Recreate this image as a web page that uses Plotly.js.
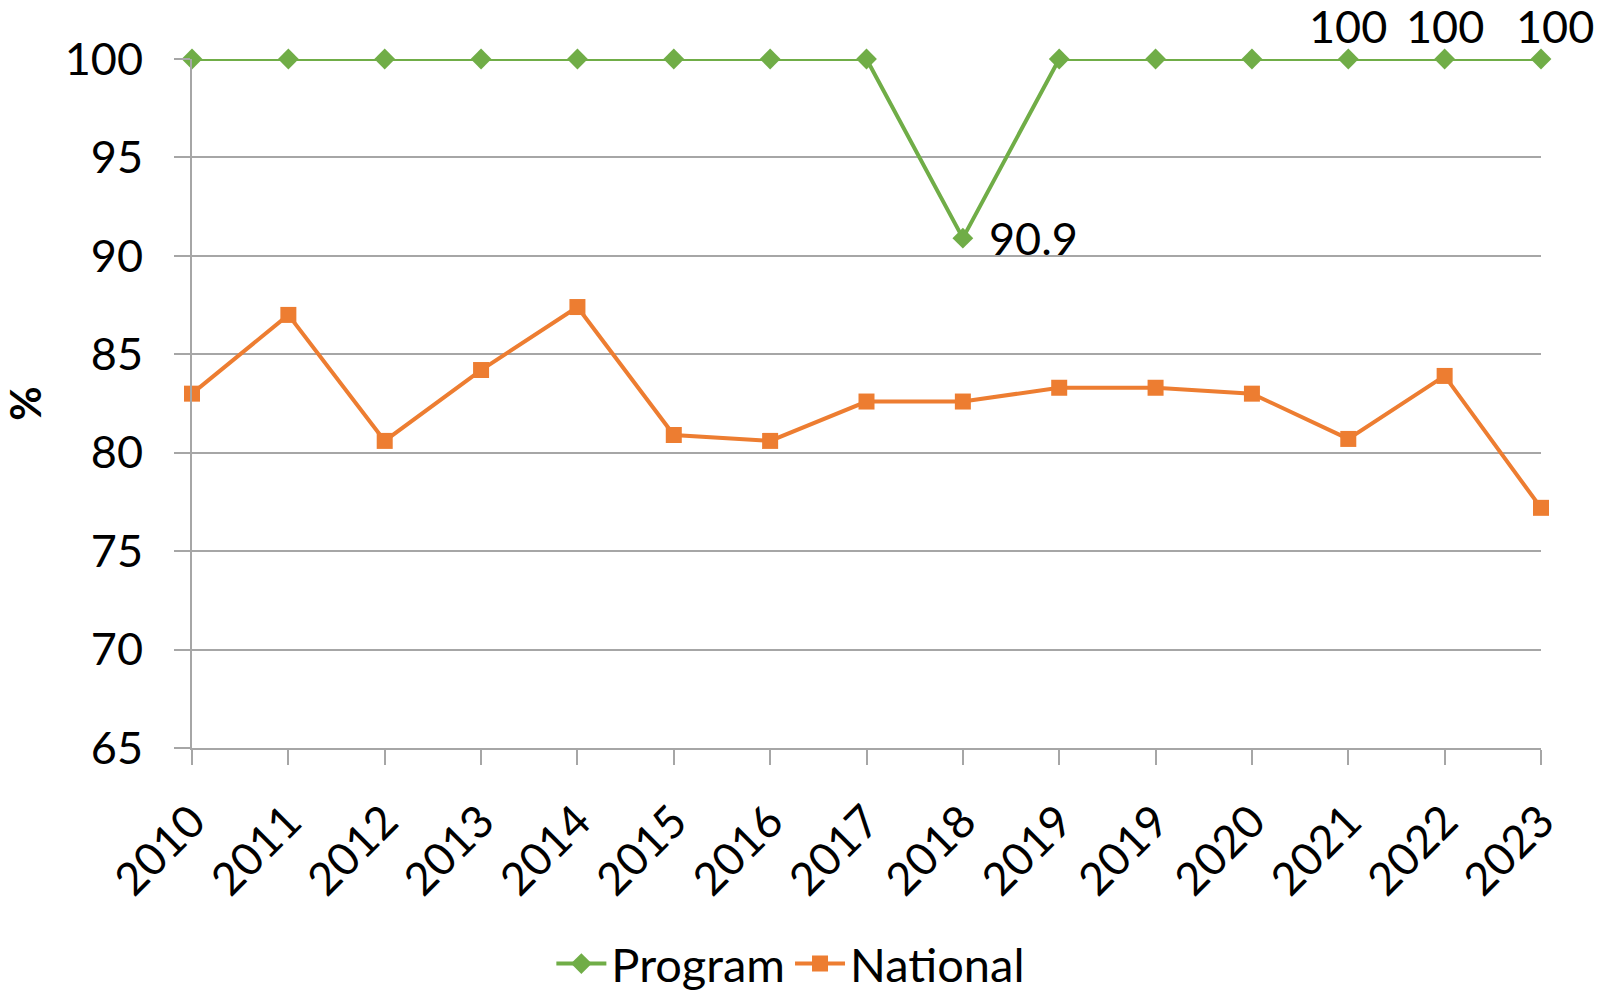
<!DOCTYPE html>
<html>
<head>
<meta charset="utf-8">
<script src="https://cdn.plot.ly/plotly-3.0.1.min.js"></script>
<style>html,body{margin:0;padding:0;background:#fff;}#chart{width:1614px;height:1000px;}</style>
</head>
<body>
<div id="chart"></div>
<script>
var years = ["2010","2011","2012","2013","2014","2015","2016","2017","2018","2019","2019","2020","2021","2022","2023"];
var program = [100,100,100,100,100,100,100,100,90.9,100,100,100,100,100,100];
var national = [83.0,87.0,80.6,84.2,87.4,80.9,80.6,82.6,82.6,83.3,83.3,83.0,80.7,83.9,77.2];
var programLabels = ["","","","","","","","","90.9","","","","100","100","100"];

var idx = years.map(function(_, i){ return i; });
var FONT = "Lato, 'Noto Sans', sans-serif";
var GRID = "#a6a6a6";

var traces = [
  {
    x: idx, y: program, name: "Program", type: "scatter", mode: "lines+markers",
    line: {color: "#70AD47", width: 4},
    marker: {symbol: "diamond", size: 16, color: "#70AD47"},
    cliponaxis: false
  },
  {
    x: idx, y: national, name: "National", type: "scatter", mode: "lines+markers",
    line: {color: "#ED7D31", width: 4},
    marker: {symbol: "square", size: 16, color: "#ED7D31"},
    cliponaxis: false
  }
];

var annotations = [];
programLabels.forEach(function(lbl, i){
  if (!lbl) return;
  var low = program[i] < 100;
  annotations.push({
    x: idx[i], y: program[i], xref: "x", yref: "y", text: lbl, showarrow: false,
    font: {family: FONT, size: 45, color: "#000"},
    xanchor: low ? "left" : "center", yanchor: "middle",
    xshift: low ? 24 : (i === idx.length - 1 ? 14 : 0),
    yshift: low ? 0 : 33
  });
});

var layout = {
  width: 1614, height: 1000,
  margin: {l: 192, r: 73, t: 59, b: 252},
  paper_bgcolor: "#fff", plot_bgcolor: "#fff",
  font: {family: FONT, size: 45, color: "#000"},
  xaxis: {
    range: [0, 14], tickmode: "array", tickvals: idx, ticktext: years,
    tickangle: -45, ticks: "outside", ticklen: 15, tickcolor: GRID, tickwidth: 2,
    ticklabelstandoff: 12,
    showgrid: false, zeroline: false, showline: true, linecolor: GRID, linewidth: 2,
    tickfont: {family: FONT, size: 45, color: "#000"}, fixedrange: true, automargin: false
  },
  yaxis: {
    range: [65, 100], dtick: 5, ticks: "outside", ticklen: 16, tickcolor: GRID, tickwidth: 2,
    ticklabelstandoff: 22,
    showgrid: true, gridcolor: GRID, gridwidth: 2, zeroline: false,
    showline: true, linecolor: GRID, linewidth: 2,
    tickfont: {family: FONT, size: 45, color: "#000"},
    title: {text: "<b>%</b>", font: {family: FONT, size: 42, color: "#000"}, standoff: 36},
    fixedrange: true, automargin: false
  },
  legend: {
    orientation: "h", x: 0.49, xref: "container", xanchor: "center",
    y: 0.036, yref: "container", yanchor: "middle",
    font: {family: FONT, size: 47, color: "#000"}, itemwidth: 50
  },
  annotations: annotations,
  showlegend: true
};

Plotly.newPlot("chart", traces, layout, {displayModeBar: false, staticPlot: true});
</script>
</body>
</html>
